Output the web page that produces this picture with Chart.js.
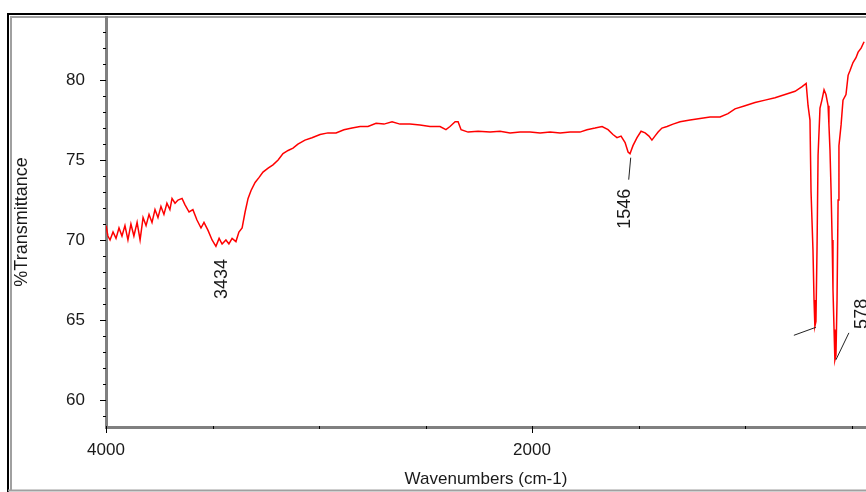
<!DOCTYPE html>
<html>
<head>
<meta charset="utf-8">
<script src="https://cdn.jsdelivr.net/npm/chart.js@4/dist/chart.umd.min.js"></script>
<style>
  html, body { margin: 0; padding: 0; background: #fff; }
  #wrap { width: 866px; height: 492px; position: relative; }
</style>
</head>
<body>
<div id="wrap"><canvas id="ir" width="866" height="492"></canvas></div>
<script>
// spectrum (wavenumber cm-1, %T)
const wavenumbers = [
  4000, 3991, 3981, 3967, 3953, 3939, 3925, 3911, 3897, 3883, 3869, 3854, 3840, 3826, 3812, 3798,
  3784, 3770, 3756, 3742, 3728, 3714, 3700, 3690, 3676, 3662, 3643, 3629, 3610, 3592, 3573, 3554,
  3540, 3521, 3502, 3484, 3469, 3455, 3437, 3423, 3408, 3390, 3376, 3361, 3347, 3333, 3319, 3300,
  3282, 3263, 3239, 3216, 3192, 3169, 3145, 3122, 3099, 3066, 3033, 2995, 2958, 2920, 2883, 2845,
  2807, 2770, 2732, 2695, 2657, 2620, 2573, 2526, 2479, 2432, 2404, 2385, 2361, 2347, 2333, 2300,
  2253, 2197, 2150, 2103, 2056, 2009, 1962, 1915, 1868, 1821, 1775, 1742, 1704, 1671, 1643, 1620,
  1601, 1582, 1563, 1549, 1540, 1526, 1507, 1488, 1469, 1451, 1437, 1423, 1408, 1390, 1366, 1338,
  1305, 1258, 1211, 1164, 1117, 1080, 1047, 1000, 953, 906, 859, 812, 765, 732, 713, 704,
  695, 690, 681, 676, 672, 667, 662, 657, 648, 639, 629, 620, 610, 606, 601, 596,
  591, 587, 582, 578, 573, 568, 563, 559, 549, 540, 526, 516, 507, 493, 479, 469,
  455, 441
];
const transmittance = [
  70.9, 70.25, 70.0, 70.5, 70.1, 70.75, 70.25, 70.9, 70.0, 71.0, 70.25, 71.1, 70.0, 71.4, 70.9, 71.6,
  71.1, 71.9, 71.4, 72.1, 71.6, 72.3, 71.9, 72.6, 72.3, 72.5, 72.6, 72.2, 71.75, 71.9, 71.25, 70.75,
  71.1, 70.6, 70.0, 69.6, 70.1, 69.75, 70.0, 69.75, 70.1, 69.9, 70.5, 70.75, 71.75, 72.6, 73.1, 73.6,
  73.9, 74.25, 74.5, 74.7, 75.0, 75.4, 75.6, 75.75, 76.0, 76.25, 76.4, 76.6, 76.7, 76.7, 76.9, 77.0,
  77.1, 77.1, 77.3, 77.25, 77.4, 77.25, 77.25, 77.2, 77.1, 77.1, 76.9, 77.1, 77.4, 77.4, 76.9, 76.75,
  76.8, 76.75, 76.8, 76.7, 76.75, 76.75, 76.7, 76.75, 76.7, 76.75, 76.75, 76.9, 77.0, 77.1, 76.9, 76.6,
  76.4, 76.5, 76.1, 75.5, 75.4, 75.9, 76.4, 76.8, 76.7, 76.5, 76.25, 76.5, 76.75, 77.0, 77.1, 77.25,
  77.4, 77.5, 77.6, 77.7, 77.7, 77.9, 78.2, 78.4, 78.6, 78.75, 78.9, 79.1, 79.3, 79.6, 79.8, 78.4,
  77.5, 73.0, 69.4, 66.25, 64.6, 64.9, 69.4, 75.3, 78.25, 78.75, 79.4, 79.1, 78.4, 77.2, 75.6, 73.1,
  70.0, 66.9, 64.4, 62.5, 62.8, 66.25, 72.5, 75.9, 77.2, 78.75, 79.1, 80.3, 80.6, 81.1, 81.4, 81.75,
  82.0, 82.4
];

// axis ticks
const xTickValues = [4000, 3500, 3000, 2500, 2000, 1500, 1000, 500];
const xTickLabels = ['4000', '', '', '', '2000', '', '', ''];
const yTickValues = [59, 60, 61, 62, 63, 64, 65, 66, 67, 68, 69, 70, 71, 72, 73, 74, 75, 76, 77, 78, 79, 80, 81, 82, 83];
const yTickLabels = yTickValues.map(v => (v % 5 === 0 ? String(v) : ''));

// peak annotations
const peakWavenumbers = [3434, 1546, 672, 578];
const peakValues = [69.75, 75.4, 64.6, 62.5];
const peakLabels = ['3434', '1546', '', '578'];

// where each label/leader sits relative to its peak (px)
const peakLayout = [
  {lead: null, text: [-5, 35]},
  {lead: [[2, 4], [0, 26]], text: [-4, 55]},
  {lead: [[1, 1], [-21, 9]], text: null},
  {lead: [[1, 0], [14, -27]], text: [27, -46]}
];

const FONT = '"Liberation Sans", Arial, sans-serif';
const INK = '#1a1a1a';

const framePlugin = {
  id: 'frame',
  beforeDraw(chart) {
    const ctx = chart.ctx;
    ctx.save();
    ctx.fillStyle = '#fff';
    ctx.fillRect(0, 0, chart.width, chart.height);
    ctx.lineWidth = 2;
    ctx.strokeStyle = '#000';
    ctx.beginPath();
    ctx.moveTo(8, 492); ctx.lineTo(8, 14); ctx.lineTo(866, 14);
    ctx.stroke();
    ctx.strokeStyle = '#a0a0a0';
    ctx.beginPath();
    ctx.moveTo(11, 490); ctx.lineTo(11, 17); ctx.lineTo(866, 17);
    ctx.moveTo(8, 490.5); ctx.lineTo(866, 490.5);
    ctx.stroke();
    ctx.restore();
  }
};

// short minor / long major tick marks, like the instrument software draws them
const tickMarkPlugin = {
  id: 'tickMarks',
  afterDraw(chart) {
    const ctx = chart.ctx;
    const xs = chart.scales.x, ys = chart.scales.y;
    const left = chart.chartArea.left, bottom = chart.chartArea.bottom;
    ctx.save();
    ctx.strokeStyle = '#000';
    ctx.lineWidth = 1;
    ctx.beginPath();
    yTickValues.forEach((v, i) => {
      const py = Math.round(ys.getPixelForValue(v)) + 0.5;
      ctx.moveTo(left - (yTickLabels[i] ? 6 : 3), py);
      ctx.lineTo(left, py);
    });
    xTickValues.forEach((v, i) => {
      const px = Math.round(xs.getPixelForValue(v)) + 0.5;
      ctx.moveTo(px, bottom - 1);
      ctx.lineTo(px, bottom + (xTickLabels[i] ? 6 : 2));
    });
    ctx.stroke();
    ctx.restore();
  }
};

const peakPlugin = {
  id: 'peaks',
  afterDraw(chart) {
    const ctx = chart.ctx;
    const xs = chart.scales.x, ys = chart.scales.y;
    ctx.save();
    ctx.font = '18px ' + FONT;
    ctx.fillStyle = INK;
    ctx.strokeStyle = '#222';
    ctx.lineWidth = 1;
    peakWavenumbers.forEach((wn, i) => {
      const px = xs.getPixelForValue(wn);
      const py = ys.getPixelForValue(peakValues[i]);
      const lay = peakLayout[i];
      if (lay.lead) {
        ctx.beginPath();
        ctx.moveTo(px + lay.lead[0][0], py + lay.lead[0][1]);
        ctx.lineTo(px + lay.lead[1][0], py + lay.lead[1][1]);
        ctx.stroke();
      }
      if (lay.text && peakLabels[i]) {
        ctx.save();
        ctx.translate(px + lay.text[0], py + lay.text[1]);
        ctx.rotate(-Math.PI / 2);
        ctx.textAlign = 'center';
        ctx.textBaseline = 'middle';
        ctx.fillText(peakLabels[i], 0, 0);
        ctx.restore();
      }
    });
    ctx.restore();
  }
};

const noPad = s => { s.paddingLeft = 0; s.paddingRight = 0; s.paddingTop = 0; s.paddingBottom = 0; };

new Chart(document.getElementById('ir'), {
  type: 'line',
  data: {
    datasets: [{
      data: wavenumbers.map((w, i) => ({x: w, y: transmittance[i]})),
      borderColor: '#ff0000',
      borderWidth: 1.5,
      pointRadius: 0,
      tension: 0,
      fill: false
    }]
  },
  options: {
    responsive: false,
    animation: false,
    devicePixelRatio: 1,
    layout: {padding: {top: 17, right: 0, left: 0, bottom: 0}},
    plugins: {legend: {display: false}, tooltip: {enabled: false}},
    scales: {
      x: {
        type: 'linear',
        reverse: true,
        min: 432,
        max: 4000,
        afterBuildTicks: s => { s.ticks = xTickValues.map(v => ({value: v})); },
        afterFit: s => { s.height = 65; noPad(s); },
        border: {display: true, color: '#808080', width: 3},
        grid: {display: false},
        ticks: {
          autoSkip: false,
          maxRotation: 0,
          padding: 5,
          color: INK,
          font: {family: FONT, size: 17},
          callback: (v, i) => xTickLabels[i]
        },
        title: {
          display: true,
          text: 'Wavenumbers (cm-1)',
          color: INK,
          font: {family: FONT, size: 17},
          padding: {top: 0, bottom: 2}
        }
      },
      y: {
        type: 'linear',
        min: 58.3,
        max: 83.95,
        afterBuildTicks: s => { s.ticks = yTickValues.map(v => ({value: v})); },
        afterFit: s => { s.width = 106; noPad(s); },
        border: {display: true, color: '#808080', width: 3},
        grid: {display: false},
        ticks: {
          autoSkip: false,
          padding: 13,
          color: INK,
          font: {family: FONT, size: 17},
          callback: (v, i) => yTickLabels[i]
        },
        title: {
          display: true,
          text: '%Transmittance',
          color: INK,
          font: {family: FONT, size: 18},
          padding: {top: 11, bottom: 0}
        }
      }
    }
  },
  plugins: [framePlugin, tickMarkPlugin, peakPlugin]
});
</script>
</body>
</html>
